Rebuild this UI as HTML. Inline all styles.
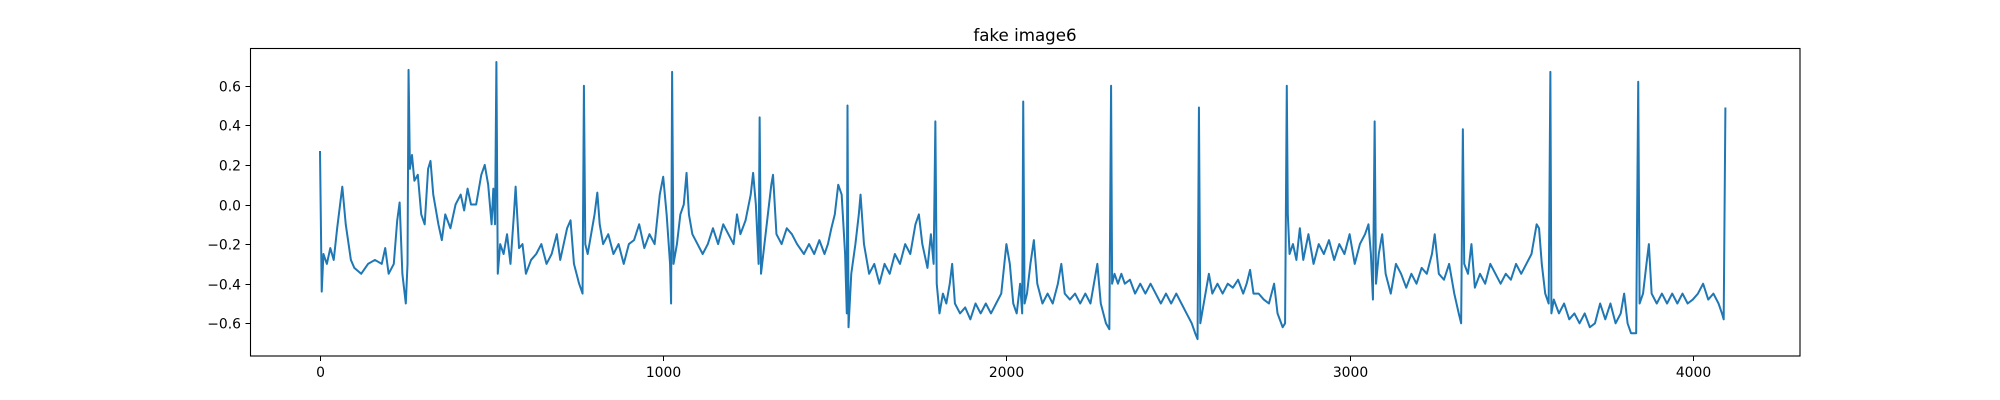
<!DOCTYPE html>
<html><head><meta charset="utf-8"><style>
html,body{margin:0;padding:0;background:#fff;}
svg{display:block;font-family:"DejaVu Sans","Liberation Sans",sans-serif;}
</style></head><body>
<svg id="chart" width="2000" height="400" viewBox="0 0 2000 400" xmlns="http://www.w3.org/2000/svg">
<rect width="2000" height="400" fill="#fff"/>
<text x="1025" y="41" font-size="16.7" text-anchor="middle" fill="#000">fake image6</text>
<g id="plot"></g>
<rect x="250.5" y="48.5" width="1549.5" height="307.5" fill="none" stroke="#000" stroke-width="1.1"/>
<g id="axes"></g>
</svg>
<script>
const sampleIndex = [0,5,10,20,30,40,50,60,65,75,90,100,120,140,160,180,190,200,215,225,232,240,250,255,258,262,268,275,285,295,305,315,322,330,345,355,365,380,395,410,420,430,440,455,470,480,490,500,505,510,514,518,525,535,545,555,565,570,580,590,600,615,630,645,660,675,690,700,710,720,730,740,755,765,769,773,780,790,800,808,815,825,840,855,870,885,900,915,930,945,960,975,990,1000,1010,1020,1023,1026,1030,1040,1050,1060,1068,1075,1085,1100,1115,1130,1145,1160,1175,1190,1205,1215,1225,1240,1255,1262,1270,1278,1281,1285,1295,1305,1315,1320,1330,1345,1360,1375,1390,1410,1425,1440,1455,1470,1480,1490,1500,1510,1520,1530,1535,1537,1540,1548,1560,1570,1575,1585,1600,1615,1630,1645,1660,1675,1690,1705,1720,1735,1745,1755,1770,1780,1788,1793,1797,1805,1815,1825,1835,1842,1850,1865,1880,1895,1910,1925,1940,1955,1970,1985,2000,2010,2020,2030,2040,2046,2049,2053,2060,2070,2080,2090,2105,2120,2135,2150,2160,2170,2185,2200,2215,2230,2245,2255,2265,2275,2290,2300,2305,2308,2315,2325,2335,2345,2360,2375,2390,2405,2420,2435,2450,2465,2480,2495,2510,2525,2540,2550,2557,2561,2565,2575,2590,2600,2615,2630,2645,2660,2675,2690,2700,2710,2720,2735,2750,2765,2780,2790,2805,2812,2817,2820,2825,2835,2845,2855,2865,2880,2895,2910,2925,2940,2955,2970,2985,3000,3015,3030,3045,3055,3062,3068,3073,3077,3085,3095,3105,3120,3135,3150,3165,3180,3195,3210,3225,3240,3248,3260,3275,3290,3305,3318,3325,3330,3334,3345,3355,3365,3380,3395,3410,3425,3440,3455,3470,3485,3500,3515,3530,3545,3552,3560,3570,3580,3585,3588,3595,3610,3625,3640,3655,3670,3685,3700,3715,3730,3745,3760,3775,3790,3800,3810,3820,3835,3841,3845,3855,3865,3872,3880,3895,3910,3925,3940,3955,3970,3985,4000,4015,4030,4045,4060,4075,4085,4090,4095];
const signalValues = [0.27,-0.44,-0.25,-0.3,-0.22,-0.28,-0.12,0.02,0.09,-0.1,-0.28,-0.32,-0.35,-0.3,-0.28,-0.3,-0.22,-0.35,-0.3,-0.08,0.01,-0.35,-0.5,-0.3,0.68,0.18,0.25,0.12,0.15,-0.05,-0.1,0.18,0.22,0.05,-0.1,-0.18,-0.05,-0.12,0.0,0.05,-0.03,0.08,0.0,0.0,0.15,0.2,0.1,-0.1,0.08,-0.1,0.72,-0.35,-0.2,-0.25,-0.15,-0.3,-0.05,0.09,-0.22,-0.2,-0.35,-0.28,-0.25,-0.2,-0.3,-0.25,-0.15,-0.28,-0.2,-0.12,-0.08,-0.3,-0.4,-0.45,0.6,-0.2,-0.25,-0.15,-0.05,0.06,-0.1,-0.2,-0.15,-0.25,-0.2,-0.3,-0.2,-0.18,-0.1,-0.22,-0.15,-0.2,0.05,0.14,-0.05,-0.3,-0.5,0.67,-0.3,-0.2,-0.05,0.0,0.16,-0.05,-0.15,-0.2,-0.25,-0.2,-0.12,-0.2,-0.1,-0.15,-0.2,-0.05,-0.15,-0.08,0.05,0.16,0.0,-0.3,0.44,-0.35,-0.2,-0.05,0.1,0.15,-0.15,-0.2,-0.12,-0.15,-0.2,-0.25,-0.2,-0.25,-0.18,-0.25,-0.2,-0.12,-0.05,0.1,0.05,-0.25,-0.55,0.5,-0.62,-0.35,-0.2,-0.05,0.05,-0.2,-0.35,-0.3,-0.4,-0.3,-0.35,-0.25,-0.3,-0.2,-0.25,-0.1,-0.05,-0.2,-0.32,-0.15,-0.3,0.42,-0.4,-0.55,-0.45,-0.5,-0.4,-0.3,-0.5,-0.55,-0.52,-0.58,-0.5,-0.55,-0.5,-0.55,-0.5,-0.45,-0.2,-0.3,-0.5,-0.55,-0.4,-0.55,0.52,-0.5,-0.45,-0.3,-0.18,-0.4,-0.5,-0.45,-0.5,-0.4,-0.3,-0.45,-0.48,-0.45,-0.5,-0.45,-0.5,-0.4,-0.3,-0.5,-0.6,-0.63,0.6,-0.4,-0.35,-0.4,-0.35,-0.4,-0.38,-0.45,-0.4,-0.45,-0.4,-0.45,-0.5,-0.45,-0.5,-0.45,-0.5,-0.55,-0.6,-0.65,-0.68,0.49,-0.6,-0.5,-0.35,-0.45,-0.4,-0.45,-0.4,-0.42,-0.38,-0.45,-0.4,-0.33,-0.45,-0.45,-0.48,-0.5,-0.4,-0.55,-0.62,-0.6,0.6,-0.05,-0.25,-0.2,-0.28,-0.12,-0.28,-0.15,-0.3,-0.2,-0.25,-0.18,-0.28,-0.2,-0.25,-0.15,-0.3,-0.2,-0.15,-0.1,-0.25,-0.48,0.42,-0.4,-0.25,-0.15,-0.35,-0.45,-0.3,-0.35,-0.42,-0.35,-0.4,-0.32,-0.35,-0.25,-0.15,-0.35,-0.38,-0.3,-0.45,-0.55,-0.6,0.38,-0.3,-0.35,-0.2,-0.42,-0.35,-0.4,-0.3,-0.35,-0.4,-0.35,-0.38,-0.3,-0.35,-0.3,-0.25,-0.1,-0.12,-0.3,-0.45,-0.5,0.67,-0.55,-0.48,-0.55,-0.5,-0.58,-0.55,-0.6,-0.55,-0.62,-0.6,-0.5,-0.58,-0.5,-0.6,-0.55,-0.45,-0.6,-0.65,-0.65,0.62,-0.5,-0.45,-0.3,-0.2,-0.45,-0.5,-0.45,-0.5,-0.45,-0.5,-0.45,-0.5,-0.48,-0.45,-0.4,-0.48,-0.45,-0.5,-0.55,-0.58,0.49];
const xTicks = [0,1000,2000,3000,4000];
const yTicks = [-0.6,-0.4,-0.2,0.0,0.2,0.4,0.6];
const yTickLabels = ["\u22120.6","\u22120.4","\u22120.2","0.0","0.2","0.4","0.6"];

const NS = "http://www.w3.org/2000/svg";
function xScale(v){ return 320 + v * 0.3432; }
function yScale(v){ return 204.5 - v * 198; }

const plot = document.getElementById('plot');
let d = '';
for (let i = 0; i < sampleIndex.length; i++) {
  d += (i ? 'L' : 'M') + xScale(sampleIndex[i]).toFixed(2) + ' ' + yScale(signalValues[i]).toFixed(2);
}
const line = document.createElementNS(NS, 'path');


line.setAttribute('d', d);
line.setAttribute('fill', 'none');
line.setAttribute('stroke', '#1f77b4');
line.setAttribute('stroke-width', '2');
line.setAttribute('stroke-linejoin', 'round');
plot.appendChild(line);

const axes = document.getElementById('axes');
xTicks.forEach(function(t){
  const x = Math.round(xScale(t)) + 0.5;
  const tk = document.createElementNS(NS, 'line');
  
  
  tk.setAttribute('x1', x); tk.setAttribute('x2', x);
  tk.setAttribute('y1', 356); tk.setAttribute('y2', 361);
  tk.setAttribute('stroke', '#000');
  axes.appendChild(tk);
  const tx = document.createElementNS(NS, 'text');
  
  
  tx.setAttribute('x', x); tx.setAttribute('y', 377);
  tx.setAttribute('font-size', '13.9');
  tx.setAttribute('text-anchor', 'middle');
  tx.textContent = String(t);
  axes.appendChild(tx);
});
yTicks.forEach(function(t, i){
  const y = Math.round(yScale(t)) + 0.5;
  const tk = document.createElementNS(NS, 'line');
  
  
  tk.setAttribute('x1', 245.5); tk.setAttribute('x2', 250.5);
  tk.setAttribute('y1', y); tk.setAttribute('y2', y);
  tk.setAttribute('stroke', '#000');
  axes.appendChild(tk);
  const tx = document.createElementNS(NS, 'text');
  
  
  tx.setAttribute('x', 241); tx.setAttribute('y', y + 5);
  tx.setAttribute('font-size', '13.9');
  tx.setAttribute('text-anchor', 'end');
  tx.textContent = yTickLabels[i];
  axes.appendChild(tx);
});
</script>
</body></html>
